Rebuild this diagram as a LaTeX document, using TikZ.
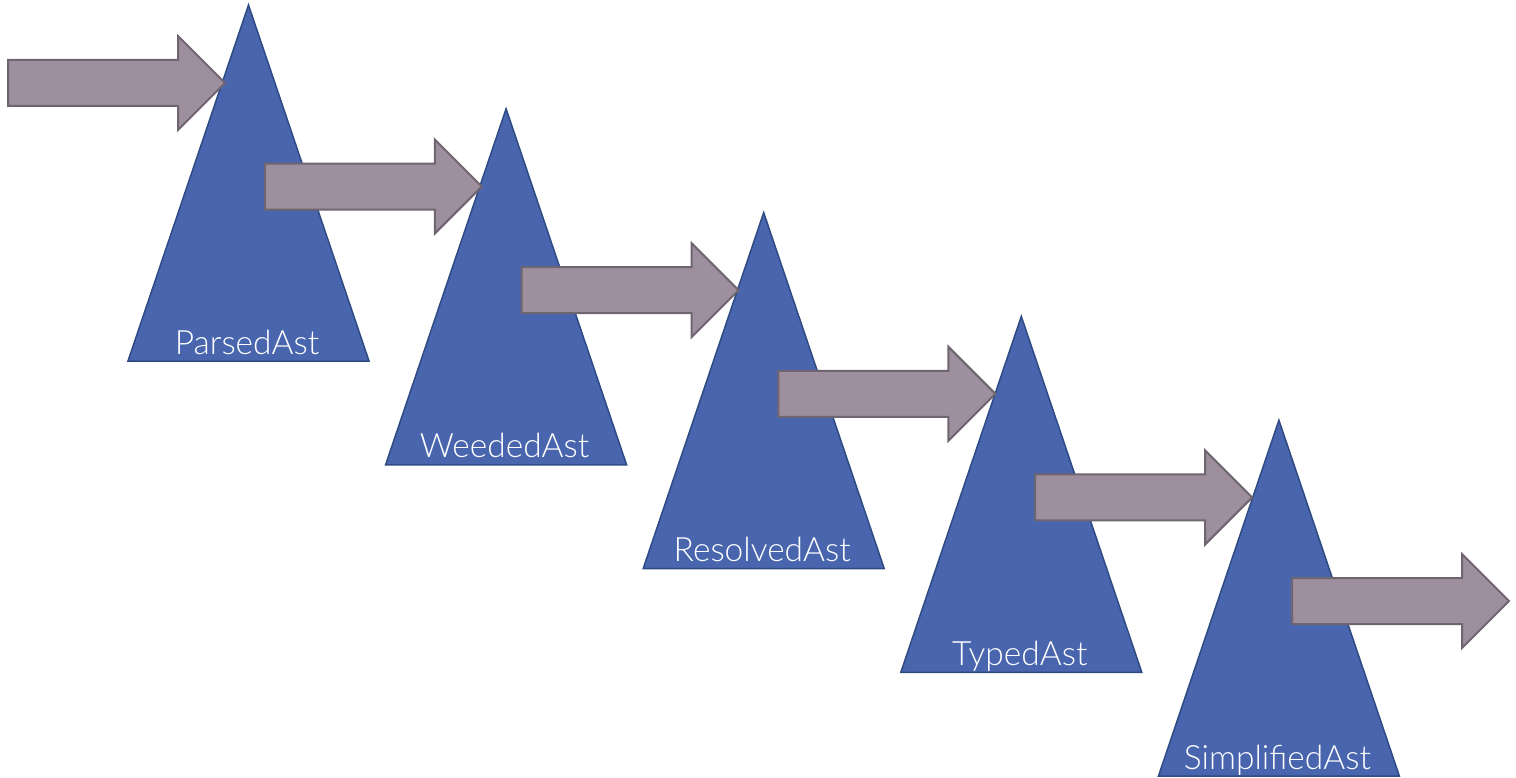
\documentclass[tikz,border=0pt]{standalone}
\usepackage{fontspec}
\setmainfont{Lato}[UprightFont=* Light]
\definecolor{treefill}{HTML}{4865AE}
\definecolor{treeline}{HTML}{2F4B83}
\definecolor{arrowfill}{HTML}{9D8F9E}
\definecolor{arrowline}{HTML}{6F6570}
\begin{document}
\begin{tikzpicture}[x=1pt,y=-1pt,
  tree/.style={fill=treefill,draw=treeline,line width=1.5pt,line join=miter},
  flow/.style={fill=arrowfill,draw=arrowline,line width=2pt,line join=miter},
  astlabel/.style={text=white,font=\fontsize{33.5}{38}\selectfont,anchor=base,inner sep=0pt}]
\useasboundingbox (0,0) rectangle (1516,778);
% the five AST stages
\foreach \name [count=\i from 0] in {ParsedAst,WeededAst,ResolvedAst,TypedAst,SimplifiedAst}{
  \coordinate (apex\i) at ({248.5+257.6*\i},{5+103.8*\i});
  \draw[tree] (apex\i) -- ++(120.5,356) -- ++(-241,0) -- cycle;
  \node[astlabel] (lbl\i) at ({247+257.6*\i},{354+103.8*\i}) {\name};
}
% the block arrows passing from one stage to the next
\foreach \i in {0,...,5}{
  \coordinate (tail\i) at ({8+256.8*\i},{60+103.6*\i});
  \draw[flow] (tail\i) -- ++(170,0) -- ++(0,-24) -- ++(47,47) -- ++(-47,47)
    -- ++(0,-24) -- ++(-170,0) -- cycle;
}
\end{tikzpicture}
\end{document}
